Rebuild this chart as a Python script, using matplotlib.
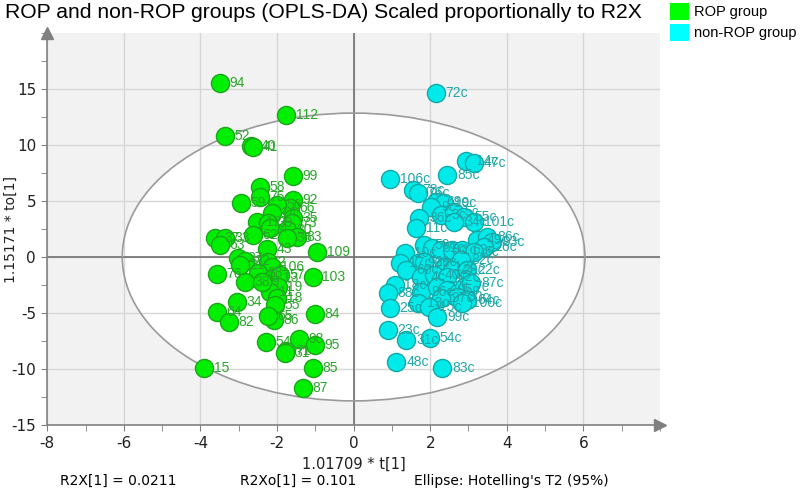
import matplotlib
matplotlib.use("Agg")
import matplotlib.pyplot as plt
from matplotlib.patches import Ellipse, Patch
from matplotlib.ticker import MultipleLocator

plt.rcParams["axes.unicode_minus"] = False

# ROP group (green) - 1.01709*t[1], 1.15171*to[1]
rop_labels = ["94", "112", "52", "40", "41", "99", "58", "59", "92", "75", "66", "56",
              "14", "12", "39", "4", "35", "73", "30", "83", "36", "37", "33", "63",
              "62", "43", "109", "27", "22", "2", "106", "76", "103", "88", "38", "13",
              "57", "34", "19", "11", "18", "55", "64", "82", "84", "86", "65", "54",
              "98", "95", "71", "31", "15", "85", "87", "21", "9"]
rop_x = [-3.49, -1.77, -3.36, -2.68, -2.63, -1.59, -2.45, -2.94, -1.59, -2.45, -1.67, -2.00,
         -2.14, -2.53, -2.24, -2.19, -1.59, -1.61, -1.74, -1.48, -1.74, -3.62, -3.36, -3.49,
         -2.63, -2.27, -0.96, -3.02, -2.84, -2.24, -2.14, -3.57, -1.07, -2.50, -2.84, -2.11,
         -1.93, -3.05, -1.98, -2.19, -2.00, -2.06, -3.57, -3.26, -1.02, -2.08, -2.24, -2.29,
         -1.43, -1.02, -1.77, -1.80, -3.91, -1.07, -1.33, -2.97, -2.40]
rop_y = [15.57, 12.72, 10.77, 9.88, 9.79, 7.21, 6.23, 4.80, 5.07, 5.34, 4.36, 4.63,
         3.91, 3.11, 3.02, 2.58, 3.47, 3.02, 2.40, 1.78, 1.69, 1.69, 1.69, 1.07,
         1.96, 0.71, 0.44, -0.09, -0.36, -0.44, -0.89, -1.51, -1.78, -1.42, -2.22, -1.87,
         -1.60, -4.00, -2.67, -3.11, -3.65, -4.27, -4.89, -5.78, -5.07, -5.60, -5.25, -7.56,
         -7.30, -7.83, -8.36, -8.54, -9.88, -9.88, -11.74, -0.71, -2.22]

# non-ROP group (cyan)
nonrop_labels = ["72c", "14c", "47c", "106c", "85c", "78c", "76c", "69c", "19c", "9c",
                 "36c", "11c", "3c", "5c", "55c", "34c", "101c", "49c", "86c", "93c",
                 "26c", "50c", "51c", "8c", "1c", "62c", "6c", "10c", "17c", "90c",
                 "29c", "12c", "82c", "28c", "22c", "60c", "4c", "40c", "42c", "18c",
                 "88c", "96c", "27c", "95c", "7c", "87c", "30c", "97c", "64c", "100c",
                 "25c", "13c", "15c", "99c", "23c", "31c", "54c", "48c", "83c"]
nonrop_x = [2.14, 2.94, 3.15, 0.96, 2.45, 1.54, 1.67, 2.16, 2.37, 2.03,
            1.72, 1.64, 2.29, 2.63, 2.89, 2.63, 3.15, 3.23, 3.49, 3.62,
            3.41, 1.85, 2.06, 2.29, 2.58, 2.84, 3.15, 1.33, 1.20, 1.67,
            1.85, 2.37, 2.81, 2.58, 2.97, 1.38, 1.77, 2.11, 2.45, 1.07,
            0.89, 1.77, 2.19, 2.45, 2.89, 3.07, 2.71, 2.29, 2.97, 2.84,
            0.94, 1.67, 1.98, 2.19, 0.89, 1.38, 2.00, 1.12, 2.32]
nonrop_y = [14.68, 8.54, 8.36, 6.94, 7.30, 5.96, 5.69, 4.89, 4.80, 4.45,
            3.47, 2.58, 3.74, 4.00, 3.56, 3.11, 3.11, 1.51, 1.78, 1.33,
            0.89, 1.07, 0.80, 0.62, 0.62, 0.62, 0.44, 0.36, -0.53, -0.53,
            -0.44, -0.89, -0.27, -1.16, -1.16, -1.16, -1.78, -1.60, -1.78, -2.49,
            -3.20, -3.11, -2.67, -2.94, -2.67, -2.31, -3.56, -3.65, -3.83, -4.09,
            -4.54, -4.09, -4.45, -5.34, -6.49, -7.38, -7.21, -9.34, -9.88]

fig = plt.figure(figsize=(8, 4.93), dpi=100)
ax = fig.add_axes([0.059, 0.138, 0.766, 0.795])

ax.set_facecolor("#f2f2f2")
ax.set_axisbelow(True)
ax.add_patch(Ellipse((0, 0), 2 * 6.04, 2 * 12.85, facecolor="white", edgecolor="none", zorder=0.2))
ax.add_patch(Ellipse((0, 0), 2 * 6.04, 2 * 12.85, facecolor="none", edgecolor="#9a9a9a", lw=1.2, zorder=0.8))

ax.set_xlim(-8, 8)
ax.set_ylim(-15, 20)
ax.xaxis.set_minor_locator(MultipleLocator(1))
ax.yaxis.set_minor_locator(MultipleLocator(2.5))
ax.set_xticks([-8, -6, -4, -2, 0, 2, 4, 6])
ax.set_yticks([-15, -10, -5, 0, 5, 10, 15])
ax.grid(True, which="major", color="#d6d6d6", lw=1)
ax.axhline(0, color="#707070", lw=1.2, zorder=0.7)
ax.axvline(0, color="#707070", lw=1.2, zorder=0.7)

for s in ["top", "right"]:
    ax.spines[s].set_visible(False)
for s in ["left", "bottom"]:
    ax.spines[s].set_color("#808080")
    ax.spines[s].set_linewidth(1.2)
ax.plot(0, 1, marker="^", color="#808080", ms=9, transform=ax.transAxes, clip_on=False)
ax.plot(1, 0, marker=">", color="#808080", ms=9, transform=ax.transAxes, clip_on=False)

ax.tick_params(which="both", direction="out", length=4, color="#808080", labelsize=11,
               labelcolor="#202020", pad=4)

ax.scatter(rop_x, rop_y, s=170, c="#00ee00", edgecolors="#1aa51a", linewidths=1, zorder=3)
ax.scatter(nonrop_x, nonrop_y, s=170, c="#00eaea", edgecolors="#12a8a8", linewidths=1, zorder=3)
for x, y, t in zip(rop_x, rop_y, rop_labels):
    ax.annotate(t, (x, y), xytext=(7, 0), textcoords="offset points", va="center",
                fontsize=10, color="#2aa52a", family="Liberation Sans", zorder=4)
for x, y, t in zip(nonrop_x, nonrop_y, nonrop_labels):
    ax.annotate(t, (x, y), xytext=(7, 0), textcoords="offset points", va="center",
                fontsize=10, color="#20a6a6", family="Liberation Sans", zorder=4)

ax.set_xlabel("1.01709 * t[1]", fontsize=10.5, color="#202020", labelpad=4)
fig.text(11 / 800, 0.535, "1.15171 * to[1]", rotation=90, ha="center", va="center",
         fontsize=10, color="#202020")

fig.text(0.006, 0.974, "ROP and non-ROP groups (OPLS-DA) Scaled proportionally to R2X",
         family="Liberation Sans", fontsize=15.2, va="center", ha="left")
fig.text(0.075, 0.025, "R2X[1] = 0.0211", fontsize=10, va="center")
fig.text(0.300, 0.025, "R2Xo[1] = 0.101", fontsize=10, va="center")
fig.text(0.518, 0.025, "Ellipse: Hotelling's T2 (95%)", fontsize=10, va="center")

handles = [Patch(facecolor="#00ff00", edgecolor="none", label="ROP group"),
           Patch(facecolor="#00ffff", edgecolor="none", label="non-ROP group")]
fig.legend(handles=handles, loc="upper left", bbox_to_anchor=(0.827, 1.012), frameon=False,
           prop={"family": "Liberation Sans", "size": 10.5}, handlelength=1.3, handleheight=1.4,
           handletextpad=0.35, labelspacing=0.3, borderaxespad=0.2)

fig.savefig("out.png", dpi=100)
